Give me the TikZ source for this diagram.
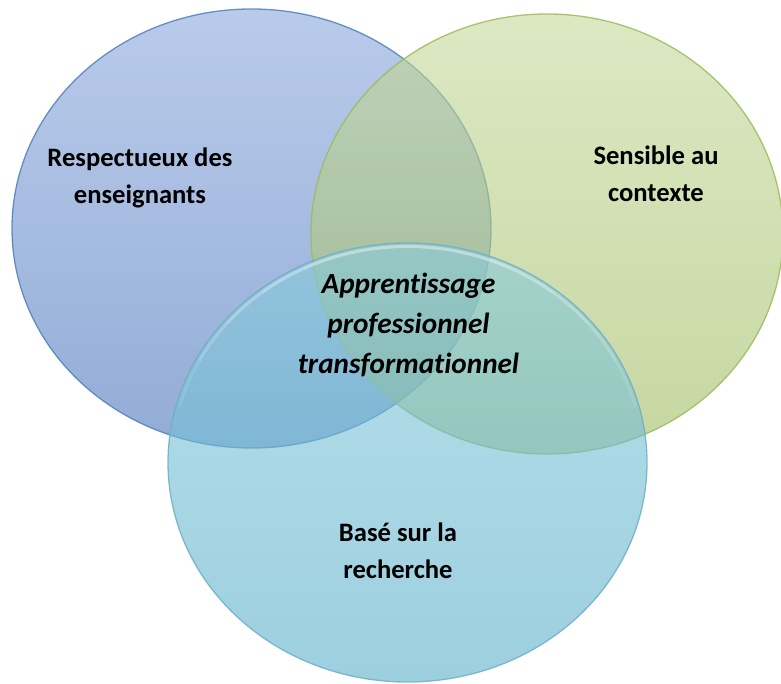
\documentclass[tikz,border=0pt]{standalone}
\usepackage{fontspec}
\setmainfont{Carlito}
\begin{document}
\begin{tikzpicture}[x=1pt,y=1pt,
  circ/.style={line width=1.3pt, fill opacity=0.6, draw opacity=0.85},
  lbl/.style={font=\bfseries\fontsize{26.6}{37}\selectfont, align=center, inner sep=0pt, text=black},
  clbl/.style={font=\bfseries\itshape\fontsize{29.2}{40}\selectfont\addfontfeatures{Ligatures=NoCommon}, align=center, inner sep=0pt, text=black},
  glow/.style={white, line width=3pt, opacity=0.1}]
\definecolor{bluetop}{RGB}{138,168,220}
\definecolor{bluebot}{RGB}{75,117,187}
\definecolor{blueline}{RGB}{79,129,189}
\definecolor{greentop}{RGB}{197,217,155}
\definecolor{greenbot}{RGB}{160,188,98}
\definecolor{greenline}{RGB}{155,187,89}
\definecolor{cyantop}{RGB}{137,203,220}
\definecolor{cyanbot}{RGB}{90,175,202}
\definecolor{cyanline}{RGB}{110,175,198}
\useasboundingbox (0,0) rectangle (781,683);
\coordinate (cb) at (251.5,454.5);
\coordinate (cg) at (547,449);
\coordinate (cc) at (407.5,220.5);
\path[circ, draw=blueline, top color=bluetop, bottom color=bluebot] (cb) ellipse [x radius=239.5, y radius=219.5];
\path[circ, draw=greenline, top color=greentop, bottom color=greenbot] (cg) ellipse [x radius=236, y radius=220];
\path[circ, draw=cyanline, top color=cyantop, bottom color=cyanbot] (cc) ellipse [x radius=239.5, y radius=219.5];
\foreach \a in {75,62,50,38,26} {
  \draw[glow] (cc) ++({90-\a}:236 and 216) arc[start angle={90-\a}, end angle={90+\a}, x radius=236, y radius=216];
}
\node[lbl] (resp) at (140,505) {Respectueux des\\enseignants};
\node[lbl] (sens) at (656,509) {Sensible au\\contexte};
\node[clbl] (appr) at (408.5,358) {Apprentissage\\professionnel\\transformationnel};
\node[lbl] (base) at (398,132) {Basé sur la\\recherche};
\end{tikzpicture}
\end{document}
